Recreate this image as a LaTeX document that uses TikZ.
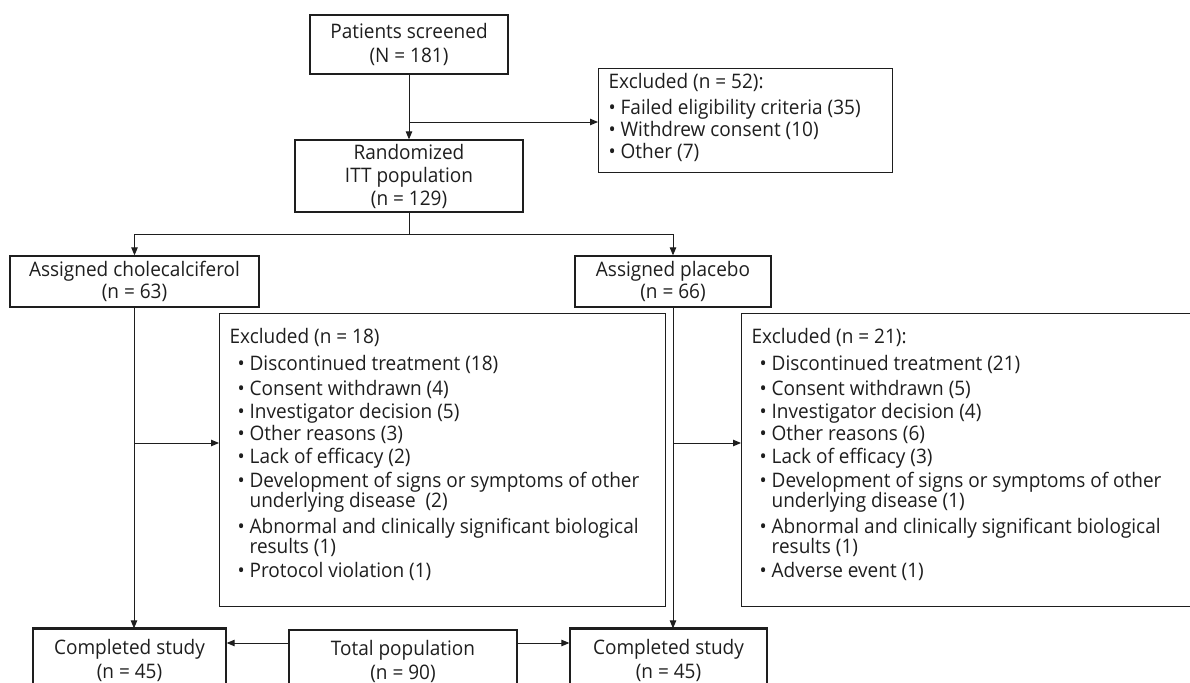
\documentclass[tikz,border=0pt]{standalone}
\usepackage{fontspec}
\setmainfont{Open Sans}[FakeStretch=0.95]
\usetikzlibrary{arrows.meta}
\definecolor{ink}{HTML}{1E1E1E}
\tikzset{
  box/.style={draw=ink, line width=1.3pt, text=ink, align=center, inner sep=0pt,
              font=\fontsize{20}{24}\selectfont},
  listbox/.style={draw=ink, line width=1.3pt, text=ink, inner xsep=10pt, inner ysep=0pt,
              font=\fontsize{20}{20}\selectfont},
  conn/.style={draw=ink, line width=0.9pt},
  arr/.style={conn, -{Triangle[length=8pt,width=6.5pt]}},
}
\newcommand{\itm}{\hspace*{8pt}\makebox[12pt][l]{•}}
\newcommand{\wrp}{\hspace*{20pt}}
\begin{document}
\begin{tikzpicture}[x=1pt,y=-1pt]
\clip (0,0) rectangle (1190,682);
% top part
\node[box, minimum width=198pt, minimum height=59pt] (scr) at (409,44.5) {Patients screened\\(N = 181)};
\node[box, minimum width=228pt, minimum height=72pt, font=\fontsize{20}{23}\selectfont] (rand) at (409,176) {Randomized\\ITT population\\(n = 129)};
\node[listbox, anchor=north west] (exc) at (598,68)
  {\parbox[c][104pt][t]{274pt}{\vspace*{5pt}Excluded (n = 52):\\[6pt]
   \makebox[12pt][l]{•}Failed eligibility criteria (35)\\[2pt]
   \makebox[12pt][l]{•}Withdrew consent (10)\\[2pt]
   \makebox[12pt][l]{•}Other (7)}};
% arms
\node[box, minimum width=249pt, minimum height=51pt, font=\fontsize{20}{22}\selectfont] (chol) at (134.5,281.5) {Assigned cholecalciferol\\(n = 63)};
\node[box, minimum width=196pt, minimum height=51pt, font=\fontsize{20}{22}\selectfont] (plac) at (673,281.5) {Assigned placebo\\(n = 66)};
% exclusions
\node[listbox, anchor=north west] (ex1) at (219,313)
  {\parbox[c][293pt][t]{426pt}{\vspace*{15pt}Excluded (n = 18)\\[7pt]
   \itm Discontinued treatment (18)\\[5pt]
   \itm Consent withdrawn (4)\\[3pt]
   \itm Investigator decision (5)\\[2pt]
   \itm Other reasons (3)\\[3pt]
   \itm Lack of efficacy (2)\\[3pt]
   \itm Development of signs or symptoms of other\\
   \wrp underlying disease~ (2)\\[4pt]
   \itm Abnormal and clinically significant biological\\
   \wrp results (1)\\[4pt]
   \itm Protocol violation (1)}};
\node[listbox, anchor=north west] (ex2) at (741,313)
  {\parbox[c][293pt][t]{450pt}{\vspace*{15pt}Excluded (n = 21):\\[7pt]
   \itm Discontinued treatment (21)\\[5pt]
   \itm Consent withdrawn (5)\\[3pt]
   \itm Investigator decision (4)\\[2pt]
   \itm Other reasons (6)\\[3pt]
   \itm Lack of efficacy (3)\\[3pt]
   \itm Development of signs or symptoms of other\\
   \wrp underlying disease (1)\\[4pt]
   \itm Abnormal and clinically significant biological\\
   \wrp results (1)\\[4pt]
   \itm Adverse event (1)}};
% bottom
\node[box, minimum width=193pt, minimum height=62pt] (comp1) at (129.5,660) {Completed study\\(n = 45)};
\node[box, minimum width=228pt, minimum height=62pt] (tot) at (403,661) {Total population\\(n = 90)};
\node[box, minimum width=197pt, minimum height=62pt] (comp2) at (668.5,660) {Completed study\\(n = 45)};
\draw[ink, line width=2.2pt] (comp1.north west) -- (comp1.north east);
\draw[ink, line width=2.2pt] (comp2.north west) -- (comp2.north east);
% connectors
\draw[arr] (scr.south) -- (rand.north);
\coordinate (j1) at (409,122);
\draw[arr] (j1) -- (j1 -| exc.west);
\coordinate (j2) at (409,234);
\draw[conn] (rand.south) -- (j2);
\draw[arr] (j2) -| (chol.north);
\draw[arr] (j2) -| (plac.north);
\coordinate (j3) at (134,443);
\coordinate (j4) at (673,443);
\draw[arr] (chol.south -| j3) -- (j3 |- comp1.north);
\draw[arr] (j3) -- (j3 -| ex1.west);
\draw[arr] (plac.south -| j4) -- (j4 |- comp2.north);
\draw[arr] (j4) -- (j4 -| ex2.west);
\coordinate (t1) at (289,643);
\coordinate (t2) at (517,643);
\draw[arr] (t1) -- (t1 -| comp1.east);
\draw[arr] (t2) -- (t2 -| comp2.west);
\end{tikzpicture}
\end{document}
